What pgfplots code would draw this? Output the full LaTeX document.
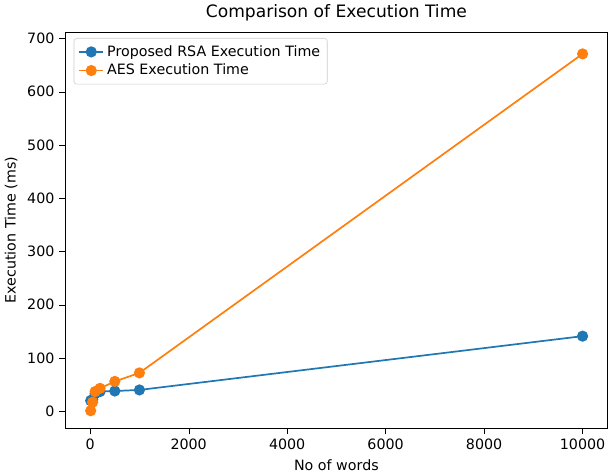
\documentclass[border=0pt]{standalone}
\usepackage{pgfplots}
\pgfplotsset{compat=1.18}
\usepackage{fontspec}
\setmainfont{DejaVu Sans}
\definecolor{mplblue}{HTML}{1F77B4}
\definecolor{mplorange}{HTML}{FF7F0E}
\begin{document}
\begin{tikzpicture}
\begin{axis}[
  scale only axis,
  width=380pt, height=278pt,
  xmin=-500, xmax=10500, ymin=-32, ymax=712,
  xtick={0,2000,4000,6000,8000,10000},
  ytick={0,100,200,300,400,500,600,700},
  scaled x ticks=false,
  /pgf/number format/assume math mode=true,
  /pgf/number format/1000 sep={},
  tick style={black},
  tick align=outside,
  xtick pos=bottom, ytick pos=left,
  title={Comparison of Execution Time},
  title style={font=\large, yshift=-2pt},
  xlabel={No of words},
  ylabel={Execution Time (ms)},
  ticklabel style={font=\normalsize},
  label style={font=\normalsize},
  legend pos=north west,
  legend style={font=\normalsize, draw=black!20, rounded corners=2pt, cells={anchor=west}, at={(0.015,0.985)}, inner sep=3pt},
  legend cell align=left,
]
\addplot[color=mplblue, line width=1.2pt, mark=*, mark size=3.3pt] coordinates {
  (10,20) (50,22) (100,33) (200,37) (500,38) (1000,40) (10000,141)};
\addlegendentry{Proposed RSA Execution Time}
\addplot[color=mplorange, line width=1.2pt, mark=*, mark size=3.3pt] coordinates {
  (10,1) (50,17) (100,37) (200,43) (500,56) (1000,72) (10000,671)};
\addlegendentry{AES Execution Time}
\end{axis}
\end{tikzpicture}
\end{document}
